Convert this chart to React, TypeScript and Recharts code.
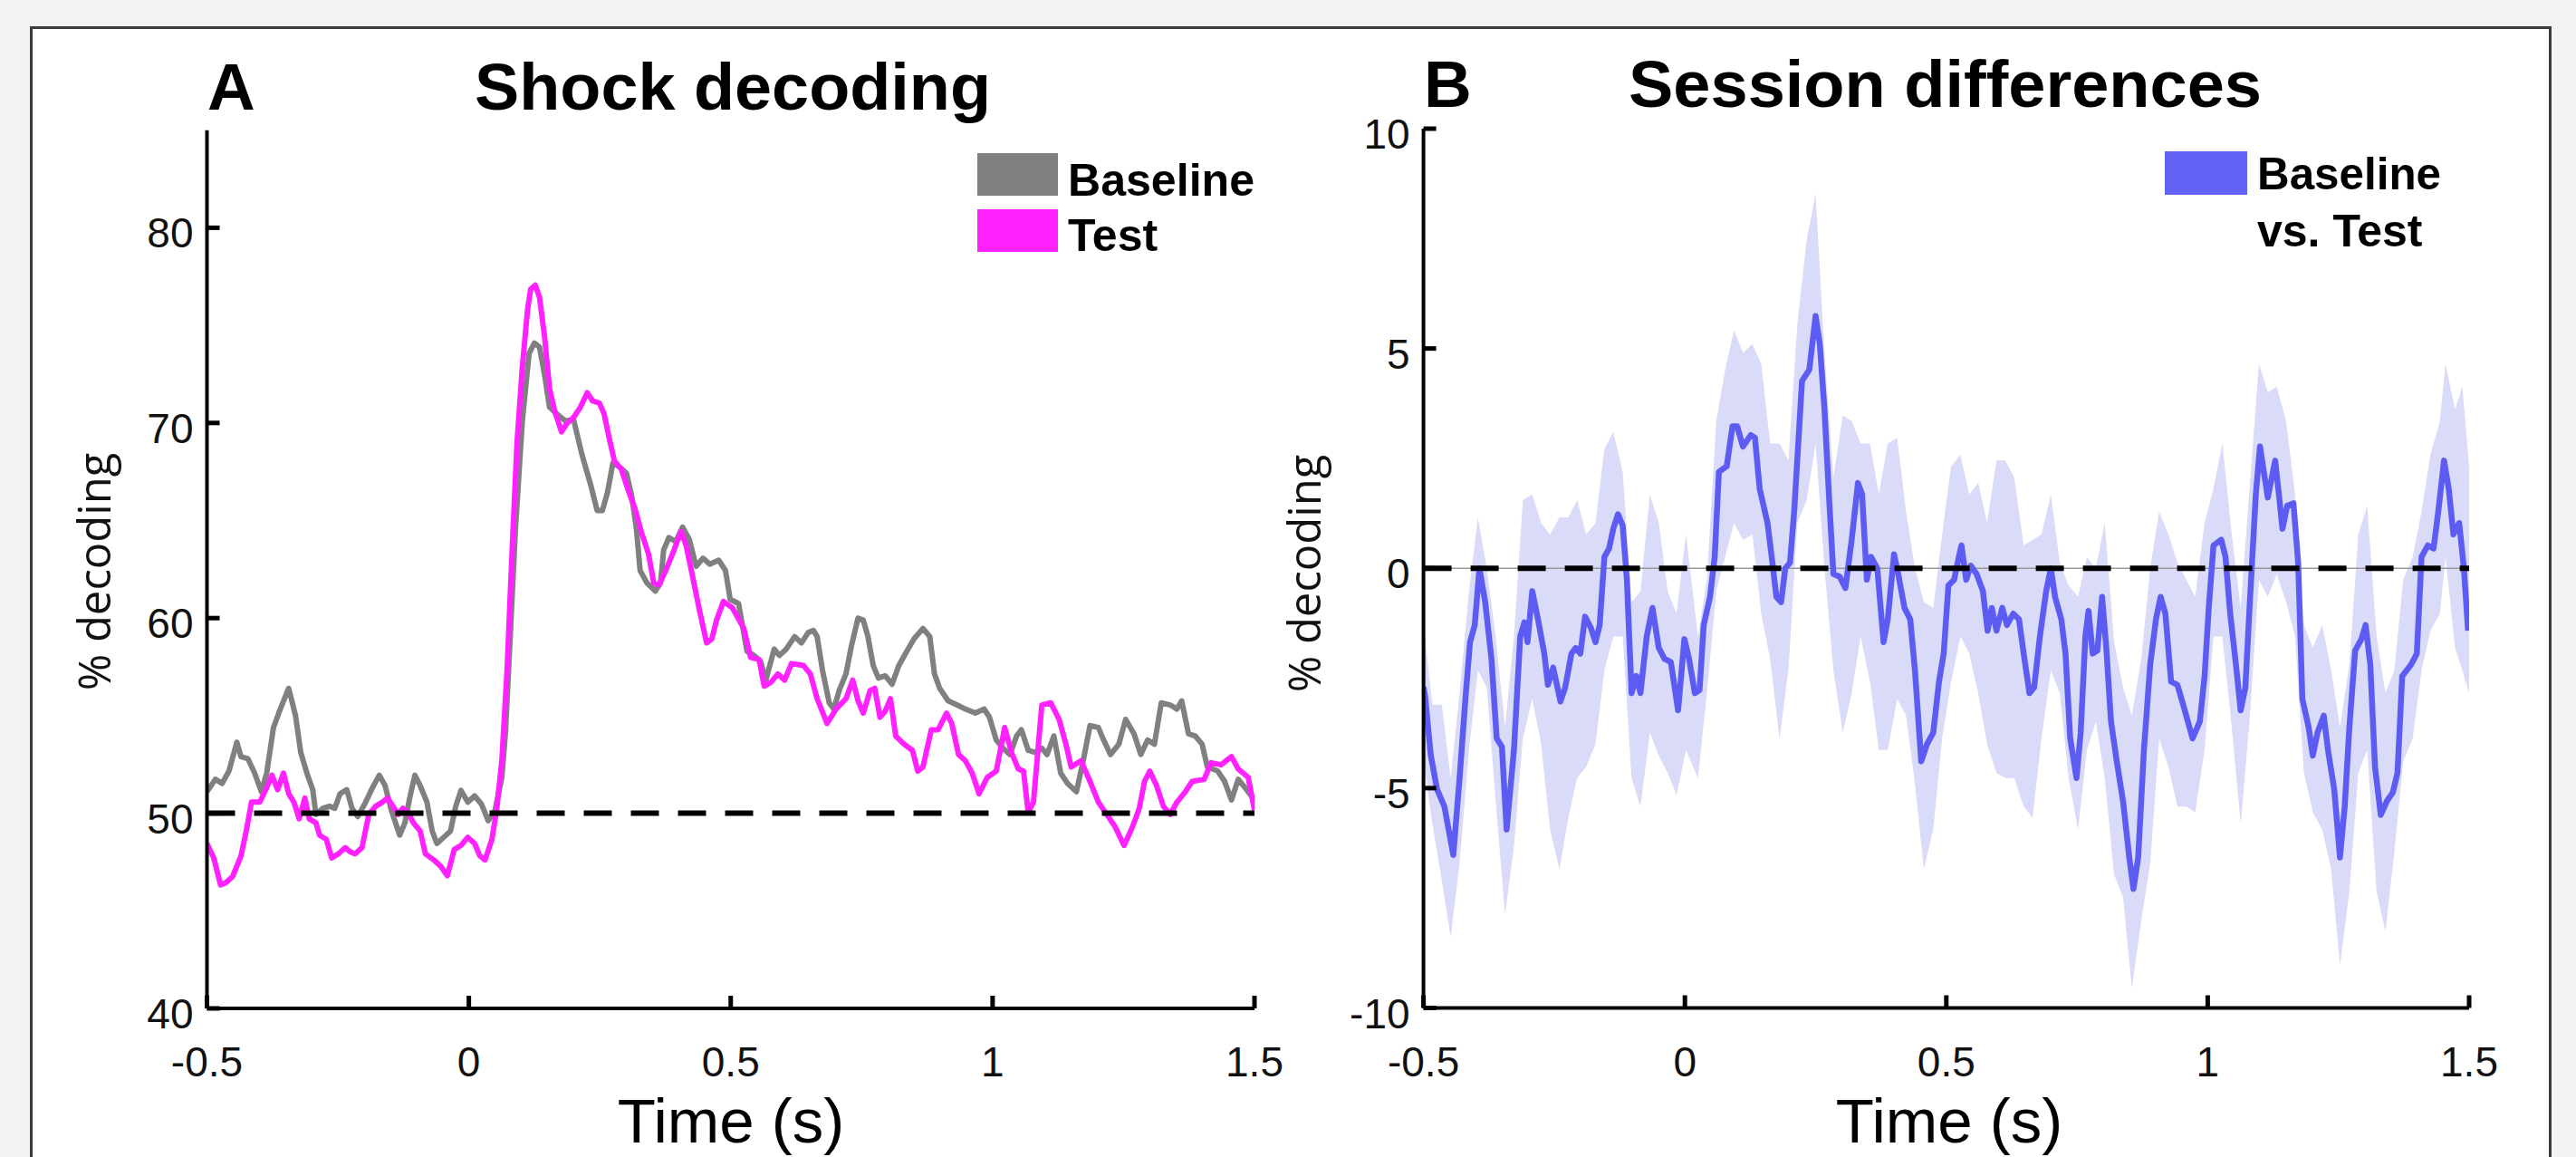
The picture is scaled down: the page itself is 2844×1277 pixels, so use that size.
import React from 'react';
import { ComposedChart, Line, Area, XAxis, YAxis, ReferenceLine } from 'recharts';

// axis ticks
const timeTicks = [-0.5, 0, 0.5, 1, 1.5];
const shockTicks = [40, 50, 60, 70, 80];
const diffTicks = [-10, -5, 0, 5, 10];
const chanceLevel = 50;
const noDifference = 0;

// [time (s), % decoding]
const baselineSeries = [
  [-0.5, 51.1], [-0.484, 51.74], [-0.471, 51.53], [-0.458, 52.16], [-0.443, 53.64], [-0.435, 52.9],
  [-0.422, 52.8], [-0.409, 52.06], [-0.396, 51.1], [-0.386, 52.06], [-0.373, 54.39], [-0.36, 55.34],
  [-0.344, 56.4], [-0.331, 55.02], [-0.321, 53.12], [-0.308, 51.95], [-0.298, 51.21], [-0.292, 49.94],
  [-0.279, 50.25], [-0.266, 50.36], [-0.256, 50.25], [-0.246, 51.0], [-0.233, 51.21], [-0.223, 50.25],
  [-0.212, 49.83], [-0.197, 50.57], [-0.184, 51.31], [-0.171, 51.95], [-0.16, 51.42], [-0.148, 50.15],
  [-0.132, 48.88], [-0.122, 49.51], [-0.113, 50.78], [-0.103, 51.95], [-0.093, 51.42], [-0.08, 50.57],
  [-0.07, 49.09], [-0.061, 48.45], [-0.048, 48.77], [-0.035, 49.09], [-0.025, 50.36], [-0.015, 51.17],
  [-0.002, 50.57], [0.011, 50.89], [0.024, 50.47], [0.037, 49.62], [0.05, 50.15], [0.063, 51.84],
  [0.07, 54.17], [0.079, 59.05], [0.089, 64.56], [0.102, 70.07], [0.115, 73.56], [0.125, 74.09],
  [0.135, 73.88], [0.145, 72.4], [0.154, 70.81], [0.167, 70.49], [0.184, 70.11], [0.2, 70.17],
  [0.216, 68.37], [0.232, 66.89], [0.245, 65.51], [0.255, 65.51], [0.265, 66.47], [0.275, 67.95],
  [0.288, 67.74], [0.301, 67.42], [0.311, 66.25], [0.32, 64.56], [0.327, 62.44], [0.34, 61.8],
  [0.356, 61.38], [0.366, 61.8], [0.372, 63.5], [0.382, 64.13], [0.395, 63.92], [0.408, 64.66],
  [0.421, 64.03], [0.434, 62.65], [0.447, 63.07], [0.46, 62.76], [0.477, 62.97], [0.49, 62.44],
  [0.499, 60.96], [0.515, 60.74], [0.531, 58.31], [0.544, 58.09], [0.557, 57.78], [0.567, 56.82],
  [0.583, 58.41], [0.593, 58.09], [0.606, 58.41], [0.622, 59.05], [0.635, 58.73], [0.648, 59.26],
  [0.658, 59.37], [0.665, 59.05], [0.675, 57.36], [0.688, 55.66], [0.697, 55.34], [0.707, 56.29],
  [0.72, 57.14], [0.73, 58.52], [0.743, 60.0], [0.753, 59.9], [0.762, 59.05], [0.772, 57.57],
  [0.782, 56.93], [0.795, 57.04], [0.808, 56.61], [0.821, 57.57], [0.834, 58.2], [0.85, 58.94],
  [0.867, 59.47], [0.88, 59.05], [0.889, 57.14], [0.899, 56.4], [0.915, 55.76], [0.932, 55.55],
  [0.948, 55.34], [0.967, 55.13], [0.984, 55.34], [0.994, 54.92], [1.007, 53.75], [1.02, 53.33],
  [1.033, 53.01], [1.046, 53.96], [1.055, 54.28], [1.068, 53.22], [1.081, 53.12], [1.094, 53.33],
  [1.104, 53.01], [1.117, 53.96], [1.13, 52.06], [1.143, 51.53], [1.16, 51.1], [1.173, 52.69],
  [1.186, 54.49], [1.202, 54.39], [1.212, 53.75], [1.225, 53.01], [1.241, 53.54], [1.254, 54.81],
  [1.27, 54.07], [1.283, 53.01], [1.296, 53.75], [1.309, 53.54], [1.322, 55.66], [1.339, 55.55],
  [1.352, 55.34], [1.361, 55.76], [1.374, 54.07], [1.387, 53.96], [1.4, 53.54], [1.41, 52.37],
  [1.43, 52.16], [1.443, 51.63], [1.456, 50.68], [1.469, 51.74], [1.482, 51.31], [1.5, 50.68],
];

const testSeries = [
  [-0.5, 48.45], [-0.487, 47.71], [-0.474, 46.33], [-0.464, 46.44], [-0.451, 46.76], [-0.435, 47.82],
  [-0.425, 49.09], [-0.415, 50.57], [-0.399, 50.57], [-0.386, 51.31], [-0.376, 51.95], [-0.365, 51.21],
  [-0.354, 52.06], [-0.344, 51.0], [-0.334, 50.57], [-0.324, 49.72], [-0.313, 50.78], [-0.305, 49.72],
  [-0.292, 49.51], [-0.285, 48.88], [-0.272, 48.66], [-0.262, 47.71], [-0.249, 47.92], [-0.236, 48.24],
  [-0.227, 48.03], [-0.217, 47.92], [-0.204, 48.24], [-0.191, 49.94], [-0.178, 50.36], [-0.165, 50.57],
  [-0.155, 50.78], [-0.145, 50.36], [-0.135, 49.94], [-0.126, 50.25], [-0.116, 50.04], [-0.106, 49.51],
  [-0.093, 49.09], [-0.083, 47.92], [-0.067, 47.61], [-0.054, 47.29], [-0.041, 46.8], [-0.028, 48.14],
  [-0.015, 48.35], [-0.002, 48.77], [0.011, 48.45], [0.021, 47.82], [0.031, 47.61], [0.044, 48.66],
  [0.053, 50.15], [0.063, 52.69], [0.073, 57.35], [0.083, 63.71], [0.092, 69.01], [0.102, 72.82],
  [0.112, 75.79], [0.118, 76.85], [0.127, 77.06], [0.135, 76.43], [0.145, 74.31], [0.154, 71.76],
  [0.164, 70.6], [0.177, 69.54], [0.187, 69.96], [0.2, 70.28], [0.213, 70.81], [0.226, 71.55],
  [0.236, 71.13], [0.249, 71.02], [0.258, 70.49], [0.268, 69.22], [0.278, 68.05], [0.291, 67.63],
  [0.304, 66.57], [0.317, 65.62], [0.33, 64.35], [0.343, 63.29], [0.353, 61.8], [0.363, 61.7],
  [0.376, 62.44], [0.392, 63.5], [0.405, 64.45], [0.415, 63.71], [0.428, 62.02], [0.441, 60.32],
  [0.454, 58.73], [0.464, 58.94], [0.473, 59.9], [0.486, 60.85], [0.503, 60.53], [0.525, 59.47],
  [0.538, 57.99], [0.554, 57.88], [0.564, 56.51], [0.577, 56.72], [0.59, 57.14], [0.603, 56.82],
  [0.616, 57.67], [0.639, 57.57], [0.652, 57.14], [0.665, 55.87], [0.684, 54.6], [0.701, 55.34],
  [0.72, 55.87], [0.733, 56.82], [0.743, 55.76], [0.753, 55.13], [0.766, 56.29], [0.775, 56.4],
  [0.785, 54.92], [0.795, 55.23], [0.805, 55.87], [0.815, 53.96], [0.831, 53.54], [0.847, 53.22],
  [0.857, 52.16], [0.867, 52.37], [0.883, 54.28], [0.896, 54.28], [0.912, 55.13], [0.922, 54.6],
  [0.935, 53.01], [0.948, 52.69], [0.961, 52.06], [0.974, 51.0], [0.99, 51.84], [1.007, 52.16],
  [1.023, 54.39], [1.036, 53.12], [1.049, 52.27], [1.059, 52.16], [1.068, 50.04], [1.078, 50.57],
  [1.094, 55.55], [1.111, 55.66], [1.127, 54.81], [1.14, 53.54], [1.15, 52.37], [1.169, 52.69],
  [1.186, 51.63], [1.202, 50.57], [1.218, 49.94], [1.234, 49.3], [1.251, 48.35], [1.267, 49.3],
  [1.28, 50.25], [1.29, 51.63], [1.3, 52.16], [1.313, 51.42], [1.326, 50.36], [1.339, 49.94],
  [1.352, 50.57], [1.368, 51.1], [1.381, 51.63], [1.404, 51.74], [1.417, 52.59], [1.436, 52.48],
  [1.456, 52.9], [1.469, 52.27], [1.488, 51.84], [1.5, 50.15],
];

// [time (s), baseline minus test, % decoding]
const diffSeries = [
  [-0.5, -2.7], [-0.497, -2.9], [-0.486, -4.26], [-0.474, -5.03], [-0.46, -5.42], [-0.443, -6.52],
  [-0.431, -4.77], [-0.419, -2.84], [-0.411, -1.68], [-0.402, -1.29], [-0.393, 0], [-0.382, -0.77],
  [-0.37, -2.06], [-0.36, -3.87], [-0.35, -4.06], [-0.341, -5.94], [-0.327, -4.13], [-0.315, -1.55],
  [-0.307, -1.23], [-0.301, -1.68], [-0.292, -0.52], [-0.281, -1.16], [-0.269, -1.94], [-0.262, -2.65],
  [-0.252, -2.26], [-0.238, -3.03], [-0.229, -2.71], [-0.217, -1.94], [-0.209, -1.81], [-0.2, -1.94],
  [-0.191, -1.1], [-0.18, -1.35], [-0.171, -1.68], [-0.163, -1.29], [-0.154, 0.26], [-0.145, 0.45],
  [-0.137, 0.9], [-0.128, 1.23], [-0.119, 0.97], [-0.111, -0.26], [-0.102, -2.84], [-0.093, -2.45],
  [-0.085, -2.84], [-0.073, -1.55], [-0.062, -0.9], [-0.05, -1.81], [-0.039, -2.06], [-0.027, -2.13],
  [-0.013, -3.23], [-0.001, -1.61], [0.008, -2.06], [0.019, -2.84], [0.028, -2.77], [0.036, -1.29],
  [0.048, -0.65], [0.057, 0.26], [0.065, 2.19], [0.08, 2.32], [0.091, 3.23], [0.1, 3.23],
  [0.111, 2.77], [0.126, 3.03], [0.134, 2.97], [0.143, 1.81], [0.158, 1.03], [0.166, 0.26],
  [0.175, -0.65], [0.184, -0.77], [0.192, 0], [0.201, 0.13], [0.209, 1.29], [0.224, 4.26],
  [0.238, 4.52], [0.25, 5.74], [0.258, 5.1], [0.267, 3.61], [0.276, 1.55], [0.284, -0.13],
  [0.296, -0.19], [0.307, -0.45], [0.319, 0.65], [0.331, 1.94], [0.339, 1.68], [0.348, -0.26],
  [0.356, 0.26], [0.368, 0], [0.38, -1.68], [0.388, -1.16], [0.4, 0.32], [0.408, -0.13],
  [0.42, -0.9], [0.431, -1.16], [0.44, -2.32], [0.452, -4.39], [0.463, -4.0], [0.475, -3.74],
  [0.486, -2.58], [0.495, -1.94], [0.504, -0.39], [0.515, -0.26], [0.524, 0.26], [0.529, 0.52],
  [0.538, -0.26], [0.547, 0.06], [0.558, -0.13], [0.57, -0.52], [0.579, -1.42], [0.587, -0.9],
  [0.596, -1.42], [0.607, -0.9], [0.616, -1.29], [0.628, -1.03], [0.639, -1.16], [0.648, -1.94],
  [0.659, -2.84], [0.668, -2.71], [0.679, -1.55], [0.691, -0.52], [0.7, 0], [0.708, -0.65],
  [0.72, -1.16], [0.728, -1.94], [0.737, -3.87], [0.749, -4.77], [0.757, -3.74], [0.766, -1.55],
  [0.772, -0.97], [0.78, -1.94], [0.789, -1.87], [0.798, -0.65], [0.806, -1.81], [0.815, -3.48],
  [0.826, -4.39], [0.838, -5.29], [0.85, -6.58], [0.858, -7.29], [0.867, -6.58], [0.878, -4.13],
  [0.89, -2.19], [0.901, -1.16], [0.91, -0.65], [0.919, -1.03], [0.93, -2.58], [0.942, -2.65],
  [0.953, -3.1], [0.971, -3.87], [0.985, -3.48], [0.994, -2.45], [1.002, -0.9], [1.011, 0.52],
  [1.026, 0.65], [1.034, 0.26], [1.043, -1.03], [1.054, -2.19], [1.063, -3.23], [1.072, -2.71],
  [1.08, -0.9], [1.092, 1.68], [1.1, 2.77], [1.109, 2.06], [1.115, 1.61], [1.129, 2.45],
  [1.135, 1.81], [1.143, 0.9], [1.152, 1.42], [1.164, 1.48], [1.173, 0.13], [1.181, -2.97],
  [1.193, -3.61], [1.201, -4.26], [1.21, -3.74], [1.222, -3.35], [1.23, -4.13], [1.242, -5.03],
  [1.253, -6.58], [1.262, -5.42], [1.271, -3.61], [1.282, -1.87], [1.294, -1.61], [1.302, -1.29],
  [1.311, -2.19], [1.32, -4.52], [1.331, -5.61], [1.343, -5.29], [1.354, -5.1], [1.363, -4.65],
  [1.372, -2.45], [1.389, -2.19], [1.4, -1.94], [1.409, 0.26], [1.421, 0.52], [1.432, 0.45],
  [1.441, 1.29], [1.452, 2.45], [1.461, 1.81], [1.47, 0.77], [1.481, 1.03], [1.49, 0],
  [1.498, -1.42],
];

// [time (s), lower, upper] of the shaded error band
const diffBand = [
  [-0.5, -4.39, -1.29], [-0.483, -5.81, -3.1], [-0.465, -7.1, -3.1], [-0.448, -8.39, -4.77],
  [-0.431, -6.71, -2.84], [-0.413, -4.13, -0.52], [-0.396, -2.32, 1.16], [-0.379, -2.71, 0],
  [-0.362, -5.29, -1.55], [-0.344, -7.87, -3.61], [-0.327, -6.32, -1.55], [-0.31, -3.87, 1.55],
  [-0.292, -2.97, 1.68], [-0.275, -4.0, 1.03], [-0.258, -5.94, 0.77], [-0.24, -6.84, 1.16],
  [-0.223, -5.68, 1.16], [-0.206, -4.77, 1.55], [-0.189, -4.52, 0.77], [-0.171, -4.0, 1.03],
  [-0.154, -2.32, 2.71], [-0.137, -1.55, 3.1], [-0.119, -1.55, 2.19], [-0.102, -4.77, -0.77],
  [-0.085, -5.42, -0.52], [-0.067, -3.74, 1.68], [-0.05, -4.26, 1.03], [-0.033, -4.65, -0.52],
  [-0.016, -5.16, -1.03], [0.002, -4.13, 0.77], [0.025, -4.77, -1.55], [0.042, -2.84, -0.26],
  [0.06, -0.52, 3.35], [0.077, 0.26, 4.52], [0.094, 1.03, 5.42], [0.111, 0.65, 4.9],
  [0.129, 0.77, 5.1], [0.146, -1.03, 4.65], [0.163, -2.06, 2.84], [0.181, -3.87, 2.84],
  [0.198, -2.32, 2.45], [0.215, 1.03, 5.55], [0.233, 1.55, 7.48], [0.25, 2.84, 8.52],
  [0.267, 0, 4.9], [0.284, -2.32, 2.06], [0.302, -3.74, 3.48], [0.319, -2.84, 3.35],
  [0.336, -1.55, 2.84], [0.354, -2.58, 2.84], [0.371, -4.13, 1.68], [0.388, -4.13, 2.84],
  [0.406, -2.97, 2.97], [0.423, -3.35, 1.29], [0.44, -4.9, 0], [0.457, -6.84, -0.77],
  [0.475, -5.94, -0.9], [0.492, -3.87, 0.77], [0.509, -2.58, 2.32], [0.527, -1.55, 2.58],
  [0.544, -1.94, 1.68], [0.561, -2.84, 1.94], [0.578, -4.0, 1.03], [0.596, -4.65, 2.45],
  [0.613, -4.77, 2.45], [0.63, -4.77, 2.06], [0.648, -5.42, 0.52], [0.665, -5.68, 0.65],
  [0.682, -3.87, 0.77], [0.7, -2.32, 1.68], [0.717, -2.84, 0.13], [0.734, -4.77, -0.39],
  [0.752, -5.94, -0.65], [0.769, -4.13, 0.26], [0.786, -3.48, 0], [0.803, -4.77, 1.03],
  [0.821, -6.97, -1.68], [0.838, -7.48, -2.71], [0.855, -9.55, -3.35], [0.873, -8.0, -2.06],
  [0.89, -6.71, 0], [0.907, -3.87, 1.29], [0.925, -4.52, 0.77], [0.942, -5.42, 0.13],
  [0.959, -5.42, -0.26], [0.976, -5.55, -0.65], [0.994, -4.13, 1.03], [1.011, -1.55, 1.81],
  [1.028, -1.55, 2.84], [1.046, -3.61, 0.77], [1.063, -5.81, -0.9], [1.08, -3.48, 1.81],
  [1.098, -0.26, 4.65], [1.115, -0.65, 4.0], [1.132, -0.13, 4.13], [1.15, -0.77, 3.35],
  [1.167, -1.55, 1.68], [1.184, -4.65, -1.29], [1.201, -5.55, -1.81], [1.219, -5.94, -1.29],
  [1.236, -6.84, -2.32], [1.253, -9.03, -3.61], [1.271, -7.35, -2.19], [1.288, -4.65, 0.77],
  [1.305, -4.13, 1.42], [1.323, -7.35, -1.55], [1.34, -8.26, -2.84], [1.357, -6.45, -2.32],
  [1.374, -4.39, -0.26], [1.392, -3.87, 0.26], [1.409, -2.32, 1.29], [1.426, -1.42, 2.58],
  [1.444, -1.03, 3.35], [1.455, 0.26, 4.65], [1.473, -1.81, 3.61], [1.487, -2.32, 4.13],
  [1.5, -2.84, 2.32],
];

const baselineData = baselineSeries.map(([t, v]) => ({ t, v }));
const testData = testSeries.map(([t, v]) => ({ t, v }));
const diffData = diffSeries.map(([t, v]) => ({ t, v }));
const bandData = diffBand.map(([t, lo, hi]) => ({ t, range: [lo, hi] }));

const tickFont = '"Liberation Sans", Arial, sans-serif';
const axisTitleFont = '"Open Sans", "DejaVu Sans", sans-serif';
const labelFont = '"Liberation Sans", Arial, Helvetica, sans-serif';

const YTick = ({ x, y, payload }: any) => (
  <text x={x} y={y + 22} textAnchor="end" fontFamily={tickFont} fontSize={46} fill="#111">
    {payload.value}
  </text>
);

const XTick = ({ x, y, payload }: any) => (
  <text x={x} y={y + 75} textAnchor="middle" fontFamily={tickFont} fontSize={46} fill="#111">
    {payload.value}
  </text>
);

const thickAxis = { stroke: '#000', strokeWidth: 4 };
const thinAxis = { stroke: '#000', strokeWidth: 2 };
const tickMark = { stroke: '#000', strokeWidth: 5 };

// box axes (ticks pointing inward on all four sides)
function boxAxes(yDomain: number[], yTicks: number[], yWidth: number) {
  return [
    <XAxis
      key="xb"
      xAxisId={0}
      dataKey="t"
      type="number"
      domain={[-0.5, 1.5]}
      ticks={timeTicks}
      allowDataOverflow
      height={150}
      tickSize={-14}
      tickMargin={14}
      axisLine={thickAxis}
      tickLine={tickMark}
      tick={(p: any) => <XTick {...p} />}
    />,
    <XAxis
      key="xt"
      xAxisId="top"
      orientation="top"
      type="number"
      domain={[-0.5, 1.5]}
      ticks={timeTicks}
      allowDataOverflow
      height={0}
      tickSize={-14}
      axisLine={thinAxis}
      tickLine={tickMark}
      tick={false}
    />,
    <YAxis
      key="yl"
      yAxisId={0}
      type="number"
      domain={yDomain}
      ticks={yTicks}
      allowDataOverflow
      width={yWidth}
      tickSize={-14}
      tickMargin={29}
      axisLine={thickAxis}
      tickLine={tickMark}
      tick={(p: any) => <YTick {...p} />}
    />,
    <YAxis
      key="yr"
      yAxisId="right"
      orientation="right"
      type="number"
      domain={yDomain}
      ticks={yTicks}
      allowDataOverflow
      width={0}
      tickSize={-14}
      axisLine={thinAxis}
      tickLine={tickMark}
      tick={false}
    />,
  ];
}

export default function App() {
  return (
    <div
      style={{
        position: 'absolute',
        left: 0,
        top: 0,
        width: 2844,
        height: 1277,
        overflow: 'hidden',
        background: '#f2f2f2',
      }}
    >
      {/* white figure frame */}
      <div
        style={{
          position: 'absolute',
          left: 33,
          top: 29,
          width: 2778,
          height: 1320,
          background: '#fff',
          border: '3px solid #3c3c3c',
        }}
      />

      {/* A: shock decoding */}
      <div style={{ position: 'absolute', left: 0, top: 0 }}>
        <ComposedChart width={1420} height={1277} margin={{ top: 143.7, right: 35, bottom: 14, left: 78.5 }}>
          {boxAxes([40, 85], shockTicks, 150)}
          <Line
            data={baselineData}
            dataKey="v"
            type="linear"
            stroke="#808080"
            strokeWidth={6}
            strokeLinejoin="round"
            dot={false}
            isAnimationActive={false}
          />
          <Line
            data={testData}
            dataKey="v"
            type="linear"
            stroke="#ff22ff"
            strokeWidth={6}
            strokeLinejoin="round"
            dot={false}
            isAnimationActive={false}
          />
          <ReferenceLine y={chanceLevel} stroke="#000" strokeWidth={6} strokeDasharray="31 21" />
        </ComposedChart>
      </div>

      {/* B: session differences */}
      <div style={{ position: 'absolute', left: 1420, top: 0 }}>
        <ComposedChart width={1424} height={1277} margin={{ top: 142, right: 118, bottom: 14.5, left: 31.6 }}>
          {boxAxes([-10, 10], diffTicks, 120)}
          <Area
            data={bandData}
            dataKey="range"
            type="linear"
            stroke="none"
            fill="#dadaf9"
            fillOpacity={1}
            isAnimationActive={false}
          />
          <ReferenceLine y={noDifference} stroke="#999" strokeWidth={1.5} />
          <Line
            data={diffData}
            dataKey="v"
            type="linear"
            stroke="#5c5cf2"
            strokeWidth={6.5}
            strokeLinejoin="round"
            dot={false}
            isAnimationActive={false}
          />
          <ReferenceLine y={noDifference} stroke="#000" strokeWidth={6} strokeDasharray="31 21" />
        </ComposedChart>
      </div>

      {/* titles, legends and axis titles */}
      <svg
        width={2844}
        height={1277}
        style={{ position: 'absolute', left: 0, top: 0, pointerEvents: 'none' }}
      >
        <g fontFamily={labelFont} fontWeight="bold" fill="#000">
          <text x={229} y={121} fontSize={73}>A</text>
          <text x={524} y={121} fontSize={73} textLength={570} lengthAdjust="spacingAndGlyphs">
            Shock decoding
          </text>
          <text x={1572} y={118} fontSize={73}>B</text>
          <text x={1798} y={118} fontSize={73} textLength={699} lengthAdjust="spacingAndGlyphs">
            Session differences
          </text>

          <rect x={1079} y={169} width={89} height={47} fill="#808080" />
          <rect x={1079} y={231} width={89} height={47} fill="#ff22ff" />
          <text x={1179} y={216} fontSize={50} textLength={206} lengthAdjust="spacingAndGlyphs">Baseline</text>
          <text x={1179} y={277} fontSize={50}>Test</text>

          <rect x={2390} y={167} width={91} height={48} fill="#6262f5" />
          <text x={2492} y={209} fontSize={50} textLength={203} lengthAdjust="spacingAndGlyphs">Baseline</text>
          <text x={2492} y={272} fontSize={50}>vs. Test</text>
        </g>
        <g fontFamily={labelFont} fill="#000" fontSize={69} textAnchor="middle">
          <text x={807} y={1261}>Time (s)</text>
          <text x={2152} y={1261}>Time (s)</text>
        </g>
        <g fontFamily={axisTitleFont} fill="#111" fontSize={49} textAnchor="middle">
          <text transform="translate(122 631) rotate(-90)">% decoding</text>
          <text transform="translate(1458 633) rotate(-90)">% decoding</text>
        </g>
      </svg>
    </div>
  );
}
